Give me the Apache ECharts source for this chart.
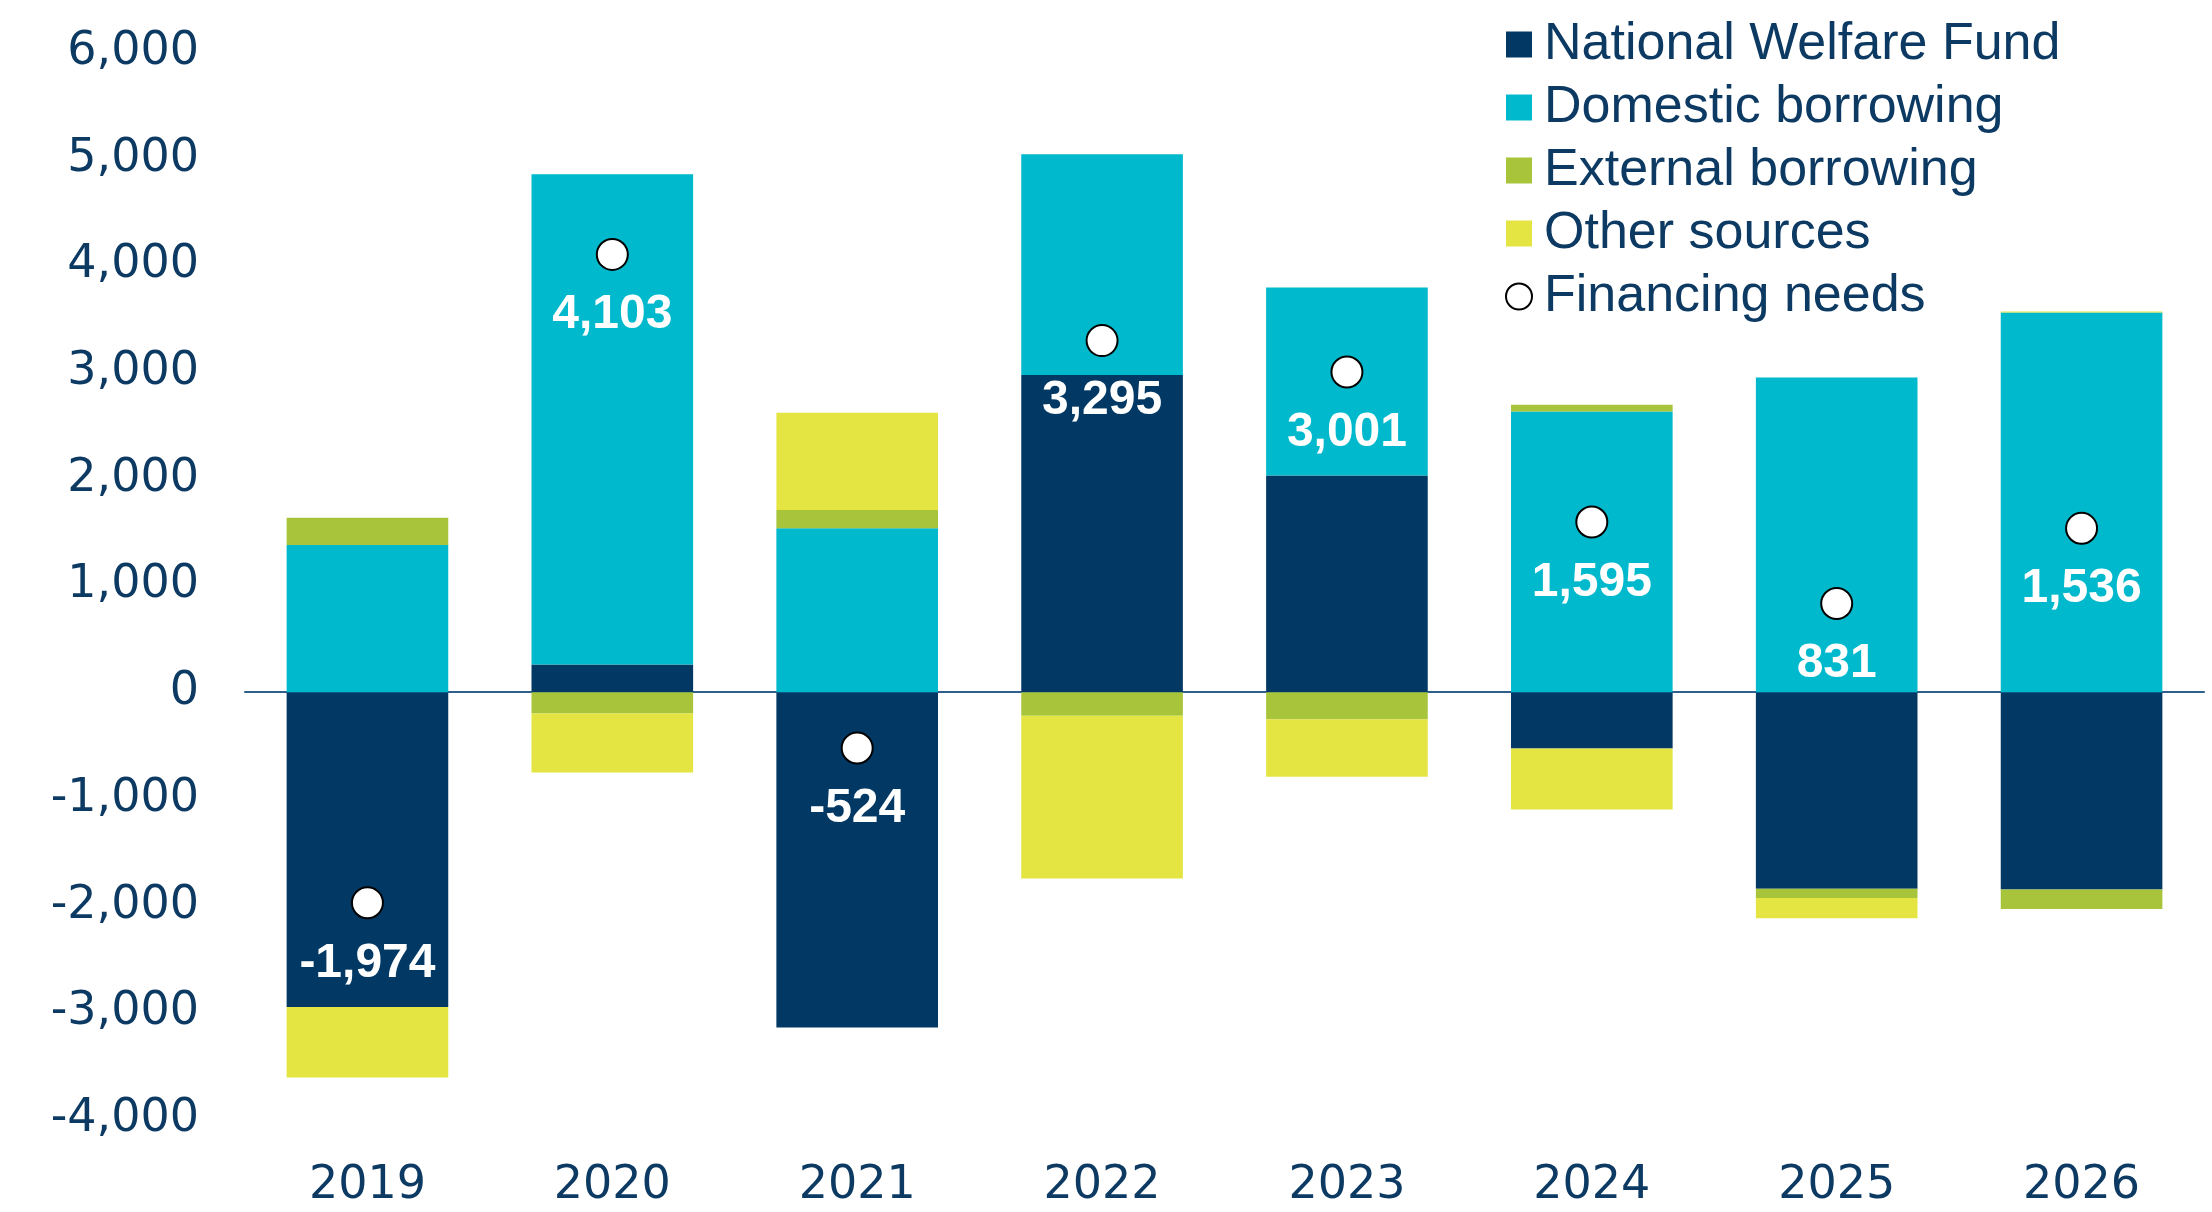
<!DOCTYPE html>
<html>
<head>
<meta charset="utf-8">
<script src="https://cdn.jsdelivr.net/npm/echarts@6/dist/echarts.min.js"></script>
<style>
  html, body { margin: 0; padding: 0; background: #fff; }
  #chart { width: 2212px; height: 1212px; }
</style>
</head>
<body>
<div id="chart"></div>
<script>
// data
var years = ['2019', '2020', '2021', '2022', '2023', '2024', '2025', '2026']
var welfareFund = [-2950, 259, -3143, 2972, 2031, -528, -1842, -1850]
var domesticBorrowing = [1380, 4595, 1537, 2069, 1762, 2630, 2950, 3558]
var externalBorrowing = [256, -200, 170, -221, -254, 65, -87, -182]
var otherSources = [-660, -552, 912, -1525, -538, -572, -190, 10]
var financingNeeds = [-1974, 4103, -524, 3295, 3001, 1595, 831, 1536]

var textColor = '#0d3a63'
var fontFamily = '"Liberation Sans", Arial, sans-serif'

function fmt (v) {
  return Number(v).toLocaleString('en-US')
}

function barSeries (name, data, color) {
  return {
    name: name,
    type: 'bar',
    stack: 'total',
    barWidth: '66%',
    itemStyle: { color: color },
    data: data
  }
}

var chart = echarts.init(document.getElementById('chart'))
chart.setOption({
  animation: false,
  textStyle: { fontFamily: fontFamily },
  grid: {
    left: 245,
    right: 8,
    top: 52,
    bottom: 93
  },
  legend: {
    orient: 'vertical',
    left: 1500,
    top: 12,
    itemWidth: 26,
    itemHeight: 26,
    itemGap: 8,
    textStyle: {
      color: textColor,
      fontSize: 52,
      lineHeight: 55,
      padding: [0, 0, 0, 7]
    },
    data: [
      { name: 'National Welfare Fund', icon: 'rect' },
      { name: 'Domestic borrowing', icon: 'rect' },
      { name: 'External borrowing', icon: 'rect' },
      { name: 'Other sources', icon: 'rect' },
      { name: 'Financing needs', icon: 'circle' }
    ]
  },
  xAxis: {
    type: 'category',
    data: years,
    axisLine: { onZero: true, lineStyle: { color: '#2f5f8c', width: 2 } },
    axisTick: { show: false },
    axisLabel: {
      color: textColor,
      fontFamily: '"DejaVu Sans", sans-serif',
      fontSize: 46,
      margin: 44
    }
  },
  yAxis: {
    type: 'value',
    min: -4000,
    max: 6000,
    interval: 1000,
    axisLine: { show: false },
    axisTick: { show: false },
    splitLine: { show: false },
    axisLabel: {
      color: textColor,
      fontFamily: '"DejaVu Sans", sans-serif',
      fontSize: 46,
      margin: 46,
      formatter: fmt
    }
  },
  series: [
    barSeries('National Welfare Fund', welfareFund, '#023864'),
    barSeries('Domestic borrowing', domesticBorrowing, '#00b9cc'),
    barSeries('External borrowing', externalBorrowing, '#a7c43a'),
    barSeries('Other sources', otherSources, '#e4e542'),
    {
      name: 'Financing needs',
      type: 'scatter',
      symbol: 'circle',
      symbolSize: 31,
      z: 5,
      itemStyle: {
        color: '#fff',
        opacity: 1,
        borderColor: '#000',
        borderWidth: 2
      },
      label: {
        show: true,
        position: 'bottom',
        distance: 20,
        color: '#fff',
        fontSize: 48,
        fontWeight: 'bold',
        formatter: function (p) { return fmt(p.value) }
      },
      data: financingNeeds
    }
  ]
})
</script>
</body>
</html>
